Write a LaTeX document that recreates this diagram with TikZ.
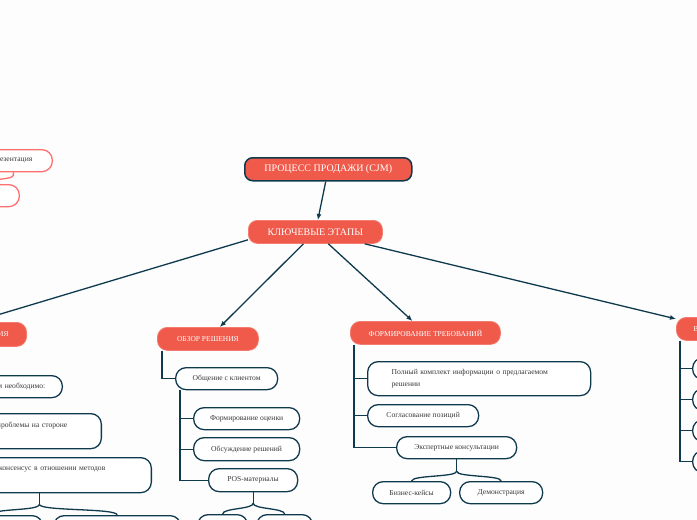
\documentclass[tikz,border=0pt]{standalone}
\usepackage{fontspec}
\setmainfont{Liberation Serif}
\usetikzlibrary{arrows.meta}
\definecolor{cRed}{HTML}{EF5A4B}
\definecolor{cRedL}{HTML}{F47B6F}
\definecolor{cNavy}{HTML}{0F3A4E}
\definecolor{cPink}{HTML}{FF6F6F}
\definecolor{cTxt}{HTML}{3A3A3A}
\definecolor{cBg}{HTML}{FDFDFD}

\begin{document}
\begin{tikzpicture}[
  x=1pt, y=-1pt,
  % ── krasnye uzly: koren, kljuch, razdely ──
  root/.style={rounded corners=8pt, draw=cNavy, fill=cRed, line width=1.5pt,
               text=white, font=\fontsize{10}{12}\selectfont, inner sep=0pt},
  key/.style={root, draw=cRedL, line width=0.8pt, rounded corners=9pt},
  sec/.style={rounded corners=10pt, draw=cRedL, fill=cRed, line width=0.8pt,
              text=white, font=\fontsize{7.5}{9}\selectfont, inner sep=0pt,
              minimum height=23pt},
  % ── belye punkty ──
  it/.style={rounded corners=10.5pt, draw=cNavy, fill=white, line width=1.3pt,
             text=cTxt, font=\fontsize{7.6}{12}\selectfont, inner sep=0pt,
             minimum height=22pt},
  rd/.style={it, draw=cPink},
  cut/.style={align=right},
  ar/.style={-{Latex[length=6pt,width=5pt]}, line width=1.3pt, cNavy},
  ln/.style={line width=1.3pt, cNavy},
  rl/.style={line width=1.3pt, cPink},
]
\useasboundingbox (0,0) rectangle (697,520);
\clip (0,0) rectangle (697,520);
\fill[cBg] (0,0) rectangle (697,520);

% ── verh ─────────────────────────────────────────────────
\node[root, anchor=north west, minimum width=167pt, minimum height=23pt] (prc)
  at (244,157) {ПРОЦЕСС ПРОДАЖИ (CJM)};
\node[key, anchor=north west, minimum width=134pt, minimum height=23pt] (etp)
  at (248,220) {КЛЮЧЕВЫЕ ЭТАПЫ};
\draw[ar] (prc) -- (etp);

% ── sleva vverhu (obrezano) ──
\node[rd, cut, anchor=north east, text width=78pt] (prz) at (53,149)
  {резентация\kern20pt};
\node[rd, cut, anchor=north east, text width=80pt] (prz2) at (20,184) {};
\draw[rl] (prz.south) -- ++(0,3) .. controls +(0,5) and +(0,-5) .. (prz2.north);

% ── razdel 1 (obrezan sleva) ──
\node[sec, cut, anchor=north east, text width=188pt, minimum height=24pt] (idn)
  at (27,322) {ИЯ\kern18pt};
\draw[ar] ([yshift=4pt]etp.south west) -- (idn);
\node[it, cut, anchor=north east, text width=120pt] (nbh) at (63,375)
  {м необходимо:\kern17pt};
\node[it, cut, anchor=north east, text width=170pt, minimum height=35pt] (prb)
  at (102,413) {проблемы на стороне\kern34pt\\\mbox{}};
\node[it, cut, anchor=north east, text width=224pt, minimum height=35pt] (kns)
  at (152,457) {консенсус в отношении методов\kern46pt\\\mbox{}};
\node[it, anchor=north west, minimum width=102pt] (kn1) at (-60,515) {};
\node[it, anchor=north west, minimum width=127pt] (kn2) at (53,515) {};
\draw[ln] (kns.south) -- ++(0,11) coordinate (kn0);
\draw[ln] (kn0) .. controls +(0,7) and +(0,-7) .. (kn1.north);
\draw[ln] (kn0) .. controls +(0,7) and +(0,-7) .. (kn2.north);

% ── OBZOR RESHENIYA ──────────────────────────────────────
\node[sec, anchor=north west, minimum width=101pt] (obz) at (157,327)
  {ОБЗОР РЕШЕНИЯ};
\draw[ar] (etp) -- (obz);
\node[it, anchor=north west, minimum width=102pt] (obs) at (175,367)
  {Общение с клиентом};
\node[it, anchor=north west, minimum width=106pt] (ocn) at (193,407)
  {Формирование оценки};
\node[it, anchor=north west, minimum width=106pt, minimum height=23pt] (obr)
  at (193,437) {Обсуждение решений};
\node[it, anchor=north west, minimum width=89pt, minimum height=23pt] (pos)
  at (208,468) {POS-материалы};
\draw[ln] ([xshift=5pt]obz.south west) |- (obs.west);
\draw[ln] ([xshift=5pt]obs.south west) |- (ocn.west);
\draw[ln] ([xshift=5pt]obs.south west) |- (obr.west);
\draw[ln] ([xshift=5pt]obs.south west) |- (pos.west);
\node[it, anchor=north west, minimum width=50pt] (ps1) at (197,514) {};
\node[it, anchor=north west, minimum width=56pt] (ps2) at (256,514) {};
\draw[ln] (pos.south) -- ++(0,11) coordinate (ps0);
\draw[ln] (ps0) .. controls +(0,6) and +(0,-6) .. (ps1.north);
\draw[ln] (ps0) .. controls +(0,6) and +(0,-6) .. (ps2.north);

% ── FORMIROVANIE TREBOVANIY ──────────────────────────────
\node[sec, anchor=north west, minimum width=150pt] (trb) at (350,321)
  {ФОРМИРОВАНИЕ ТРЕБОВАНИЙ};
\draw[ar] (etp) -- (trb);
\node[it, anchor=north west, align=left, text width=175pt, inner xsep=24pt,
      minimum height=34pt] (kmp) at (367,361)
  {Полный комплект информации о предлагаемом\\решении};
\node[it, anchor=north west, minimum width=111pt] (sgl) at (367,404)
  {Согласование позиций};
\node[it, anchor=north west, minimum width=120pt] (eks) at (396,436)
  {Экспертные консультации};
\draw[ln] ([xshift=4pt]trb.south west) |- (kmp.west);
\draw[ln] ([xshift=4pt]trb.south west) |- (sgl.west);
\draw[ln] ([xshift=4pt]trb.south west) |- (eks.west);
\node[it, anchor=north west, minimum width=78pt] (biz) at (372,481)
  {Бизнес-кейсы};
\node[it, anchor=north west, minimum width=83pt] (dem) at (459,481)
  {Демонстрация};
\draw[ln] (eks.south) -- ++(0,12) coordinate (ek0);
\draw[ln] (ek0) .. controls +(0,6) and +(0,-6) .. (biz.north);
\draw[ln] (ek0) .. controls +(0,6) and +(0,-6) .. (dem.north);

% ── razdel 4 (obrezan sprava) ──
\node[sec, anchor=north west, align=left, text width=82pt] (vnd) at (676,317)
  {\kern17pt В};
\draw[ar] (etp) -- (vnd);
\foreach \i/\yy in {1/357, 2/388, 3/419, 4/450}
  \node[it, anchor=north west, minimum width=80pt] (vn\i) at (692,\yy) {};
\foreach \i in {1,...,4}
  \draw[ln] ([xshift=4pt]vnd.south west) |- (vn\i.west);
\end{tikzpicture}
\end{document}
